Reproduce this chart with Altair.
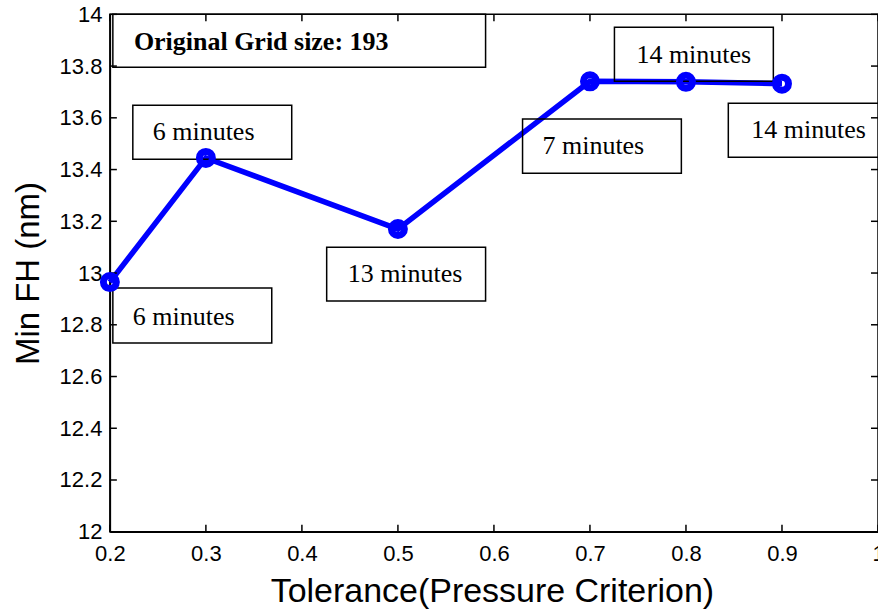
import altair as alt
import pandas as pd

# ---- data ----
tolerance = [0.2, 0.3, 0.5, 0.7, 0.8, 0.9]
min_fh = [12.965, 13.445, 13.17, 13.741, 13.739, 13.732]

x_ticks = [0.2, 0.3, 0.4, 0.5, 0.6, 0.7, 0.8, 0.9, 1.0]
y_ticks = [12.0, 12.2, 12.4, 12.6, 12.8, 13.0, 13.2, 13.4, 13.6, 13.8, 14.0]

# annotation boxes (data units)
label_text = ["Original Grid size: 193", "6 minutes", "6 minutes", "13 minutes",
              "7 minutes", "14 minutes", "14 minutes"]
label_bold = [True, False, False, False, False, False, False]
label_x = [0.225, 0.2447, 0.2239, 0.4477, 0.6506, 0.7484, 0.868]
label_y = [13.892, 13.544, 12.830, 12.996, 13.490, 13.842, 13.552]
box_x0 = [0.2031, 0.2239, 0.2031, 0.4258, 0.6298, 0.7255, 0.8441]
box_x1 = [0.5913, 0.3894, 0.3686, 0.5913, 0.7952, 0.8910, 1.0096]
box_y0 = [14.0, 13.649, 12.942, 13.100, 13.595, 13.950, 13.656]
box_y1 = [13.7954, 13.440, 12.730, 12.892, 13.386, 13.741, 13.448]

W, H = 769, 518

df = pd.DataFrame({"tol": tolerance, "fh": min_fh})
boxes = pd.DataFrame({"text": label_text, "bold": label_bold, "lx": label_x, "ly": label_y,
                      "x0": box_x0, "x1": box_x1, "y0": box_y0, "y1": box_y1})
xt = pd.DataFrame({"v": x_ticks})
yt = pd.DataFrame({"v": y_ticks})

xscale = alt.Scale(domain=[0.2, 1.0], nice=False, zero=False)
yscale = alt.Scale(domain=[12, 14], nice=False, zero=False)

x_axis = alt.Axis(values=x_ticks, format="~g", title="Tolerance(Pressure Criterion)",
                  labelFont="Liberation Sans", labelFontSize=22, labelColor="black",
                  labelPadding=12, labelFlush=False, labelOverlap=False,
                  ticks=False, grid=False, domainColor="black", domainWidth=1.5,
                  titleFont="Liberation Sans", titleFontSize=34, titleFontWeight="normal",
                  titleColor="black", titleX=W / 2 - 2, titleY=70,
                  titleBaseline="alphabetic", titleAlign="center")
y_axis = alt.Axis(values=y_ticks, format="~g", title="Min FH (nm)",
                  labelFont="Liberation Sans", labelFontSize=22, labelColor="black",
                  labelPadding=8, labelOverlap=False,
                  ticks=False, grid=False, domainColor="black", domainWidth=1.5,
                  titleFont="Liberation Sans", titleFontSize=33, titleFontWeight="normal",
                  titleColor="black", titleAngle=-90, titleX=-71, titleY=H / 2,
                  titleBaseline="alphabetic", titleAlign="center")

base = alt.Chart(df)

line = base.mark_line(color="#0000ff", strokeWidth=5.5).encode(
    x=alt.X("tol:Q", scale=xscale, axis=x_axis),
    y=alt.Y("fh:Q", scale=yscale, axis=y_axis),
)

points = base.mark_point(shape="circle", filled=False, size=169, strokeWidth=7,
                         color="#0000ff", opacity=1).encode(
    x=alt.X("tol:Q", scale=xscale),
    y=alt.Y("fh:Q", scale=yscale),
)

rects = alt.Chart(boxes).mark_rect(fill="transparent", stroke="black", strokeWidth=1.5).encode(
    x=alt.X("x0:Q", scale=xscale), x2="x1:Q",
    y=alt.Y("y0:Q", scale=yscale), y2="y1:Q",
)

texts_normal = alt.Chart(boxes).transform_filter("!datum.bold").mark_text(
    align="left", baseline="middle", font="Liberation Serif", fontSize=26, color="black"
).encode(x=alt.X("lx:Q", scale=xscale), y=alt.Y("ly:Q", scale=yscale), text="text:N")

texts_bold = alt.Chart(boxes).transform_filter("datum.bold").mark_text(
    align="left", baseline="middle", font="Liberation Serif", fontSize=26,
    fontWeight="bold", color="black"
).encode(x=alt.X("lx:Q", scale=xscale), y=alt.Y("ly:Q", scale=yscale), text="text:N")

# inward ticks on all four sides
tick_bottom = alt.Chart(xt).mark_rule(color="black", strokeWidth=1.5).encode(
    x=alt.X("v:Q", scale=xscale), y=alt.value(H), y2=alt.value(H - 7))
tick_top = alt.Chart(xt).mark_rule(color="black", strokeWidth=1.5).encode(
    x=alt.X("v:Q", scale=xscale), y=alt.value(0), y2=alt.value(7))
tick_left = alt.Chart(yt).mark_rule(color="black", strokeWidth=1.5).encode(
    y=alt.Y("v:Q", scale=yscale), x=alt.value(0), x2=alt.value(7))
tick_right = alt.Chart(yt).mark_rule(color="black", strokeWidth=1.5).encode(
    y=alt.Y("v:Q", scale=yscale), x=alt.value(W - 7), x2=alt.value(W))

chart = alt.layer(
    line, tick_bottom, tick_top, tick_left, tick_right, rects, points, texts_normal, texts_bold
).properties(
    width=W, height=H,
    padding={"left": 110, "top": 14, "right": 0, "bottom": 78},
    autosize=alt.AutoSizeParams(type="none"),
    background="white",
).configure_view(stroke="black", strokeWidth=1.5)

chart.save("out.html", embed_options={"renderer": "svg", "actions": False})
